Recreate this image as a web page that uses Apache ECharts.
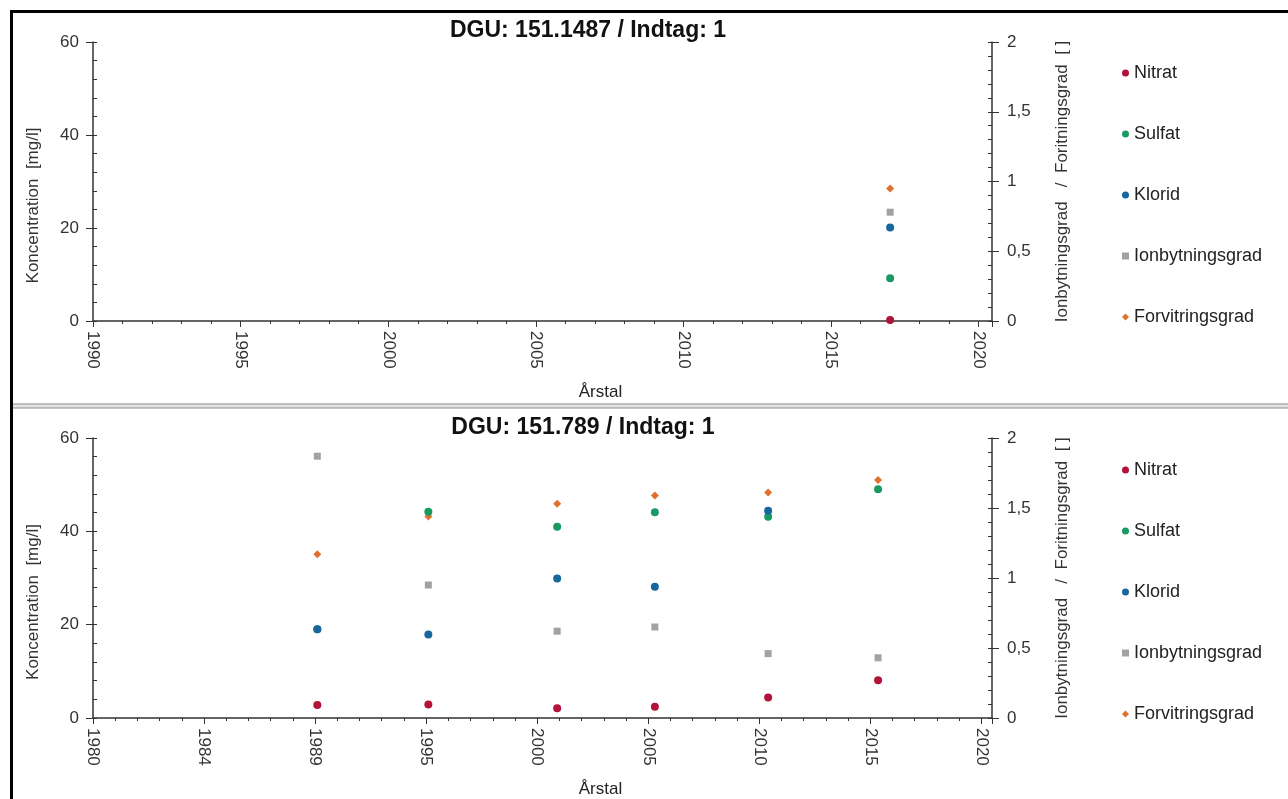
<!DOCTYPE html>
<html>
<head>
<meta charset="utf-8">
<title>DGU 151.1487 / 151.789</title>
<script src="https://cdn.jsdelivr.net/npm/echarts@6/dist/echarts.min.js"></script>
<style>
  html, body { margin: 0; padding: 0; background: #fff; }
  #chart { width: 1288px; height: 799px; }
</style>
</head>
<body>
<div id="chart"></div>
<script>
// --- data ---
const seriesNames = ['Nitrat', 'Sulfat', 'Klorid', 'Ionbytningsgrad', 'Forvitringsgrad']

// top panel: DGU 151.1487
const topYears = [2017]
const topNitrat = [0.2]
const topSulfat = [9.2]
const topKlorid = [20.1]
const topIonbytning = [0.78]
const topForvitring = [0.95]

// bottom panel: DGU 151.789
const botYears = [1990.1, 1995.1, 2000.9, 2005.3, 2010.4, 2015.35]
const botNitrat = [2.8, 2.9, 2.1, 2.4, 4.4, 8.1]
const botSulfat = [19.0, 44.2, 41.0, 44.1, 43.1, 49.0]
const botKlorid = [19.0, 17.9, 29.9, 28.1, 44.4, null]
const botIonbytning = [1.87, 0.95, 0.62, 0.65, 0.46, 0.43]
const botForvitring = [1.17, 1.44, 1.53, 1.59, 1.61, 1.70]

// tick labels
const topXLabels = ['1990', '1995', '2000', '2005', '2010', '2015', '2020']
const botXLabels = ['1980', '1984', '1989', '1995', '2000', '2005', '2010', '2015', '2020']

const colors = ['#b3123a', '#1a9a63', '#17679c', '#a2a2a2', '#e0702e']
const symbols = ['circle', 'circle', 'circle', 'rect', 'diamond']
const axisColor = '#333'
const font = 'Arial, "Liberation Sans", sans-serif'

const chartDom = document.getElementById('chart')
const myChart = echarts.init(chartDom)

function pair(xs, ys) {
  return xs.map((x, i) => [x, ys[i]])
}

function xAxes(min, max, labels, labelMin) {
  return [
    {
      type: 'value', min: min, max: max, interval: 5,
      position: 'bottom',
      name: 'Årstal', nameLocation: 'middle', nameGap: 63,
      nameTextStyle: { fontFamily: font, fontSize: 17, color: '#222', padding: [0, 0, 0, 116] },
      axisLine: { show: true, onZero: false, lineStyle: { color: axisColor, width: 1.5 } },
      axisTick: { show: true, length: 6, lineStyle: { color: axisColor } },
      splitLine: { show: false },
      axisLabel: {
        rotate: -90, margin: 10, fontFamily: font, fontSize: 17, color: '#333',
        formatter: v => {
          const k = (v - labelMin) / 5
          return Number.isInteger(k) && labels[k] ? labels[k] : ''
        }
      }
    },
    {
      // yearly minor ticks
      type: 'value', min: min, max: max, interval: 1,
      position: 'bottom',
      axisLine: { show: false },
      axisTick: { show: true, length: 3, lineStyle: { color: axisColor } },
      axisLabel: { show: false },
      splitLine: { show: false }
    }
  ]
}

function yAxes(gridIndex) {
  return [
    {
      type: 'value', gridIndex: gridIndex, position: 'left', min: 0, max: 60, interval: 20,
      name: 'Koncentration  [mg/l]', nameLocation: 'middle', nameGap: 51, nameRotate: 90,
      nameTextStyle: { fontFamily: font, fontSize: 17, color: '#333', padding: [0, 48, 0, 0] },
      axisLine: { show: true, lineStyle: { color: axisColor, width: 1.5 } },
      axisTick: { show: true, length: 7, lineStyle: { color: axisColor } },
      axisLabel: { margin: 14, fontFamily: font, fontSize: 17, color: '#333' },
      splitLine: { show: false }
    },
    {
      type: 'value', gridIndex: gridIndex, position: 'right', min: 0, max: 2, interval: 0.5,
      name: 'Ionbytningsgrad   /  Foritningsgrad  [ ]', nameLocation: 'middle', nameGap: 62, nameRotate: 90,
      nameTextStyle: { fontFamily: font, fontSize: 17, color: '#333' },
      axisLine: { show: true, lineStyle: { color: axisColor, width: 1.5 } },
      axisTick: { show: true, length: 7, lineStyle: { color: axisColor } },
      axisLabel: {
        margin: 15, fontFamily: font, fontSize: 17, color: '#333',
        formatter: v => String(v).replace('.', ',')
      },
      splitLine: { show: false }
    },
    {
      // minor ticks, left
      type: 'value', gridIndex: gridIndex, position: 'left', min: 0, max: 60, interval: 4,
      axisLine: { show: false },
      axisTick: { show: true, inside: true, length: 4, lineStyle: { color: axisColor } },
      axisLabel: { show: false },
      splitLine: { show: false }
    },
    {
      // minor ticks, right
      type: 'value', gridIndex: gridIndex, position: 'right', min: 0, max: 2, interval: 0.1,
      axisLine: { show: false },
      axisTick: { show: true, inside: true, length: 4, lineStyle: { color: axisColor } },
      axisLabel: { show: false },
      splitLine: { show: false }
    }
  ]
}

function panelSeries(xIdx, yBase, years, vals) {
  return vals.map((v, i) => ({
    name: seriesNames[i],
    type: 'scatter',
    xAxisIndex: xIdx,
    yAxisIndex: yBase + (i < 3 ? 0 : 1),
    symbol: symbols[i],
    symbolSize: i === 3 ? 7 : 8,
    itemStyle: { color: colors[i], opacity: 1 },
    z: i === 4 ? 1 : 2,
    data: pair(years, v)
  }))
}

function legend(top) {
  return {
    orient: 'vertical', left: 1117, top: top,
    itemGap: 43, itemWidth: 7, itemHeight: 7,
    icon: 'circle',
    textStyle: { fontFamily: font, fontSize: 18, lineHeight: 18, color: '#222' },
    data: seriesNames.map((n, i) => ({ name: n, icon: symbols[i] }))
  }
}

const topX = xAxes(1990, 2020.45, topXLabels, 1990).map(a => ({ ...a, gridIndex: 0 }))
const botX = xAxes(1980, 2020.48, botXLabels, 1980).map(a => ({ ...a, gridIndex: 1 }))

const option = {
  backgroundColor: '#fff',
  animation: false,
  color: colors,
  title: [
    { text: 'DGU: 151.1487 / Indtag: 1', left: 583, top: 14, textAlign: 'center',
      textStyle: { fontFamily: font, fontSize: 23, fontWeight: 'bold', color: '#111' } },
    { text: 'DGU: 151.789 / Indtag: 1', left: 578, top: 411, textAlign: 'center',
      textStyle: { fontFamily: font, fontSize: 23, fontWeight: 'bold', color: '#111' } }
  ],
  legend: [legend(59), legend(456)],
  grid: [
    { left: 93, right: 296, top: 42, bottom: 478 },
    { left: 93, right: 296, top: 438, bottom: 81 }
  ],
  xAxis: topX.concat(botX),
  yAxis: yAxes(0).concat(yAxes(1)),
  series: panelSeries(0, 0, topYears, [topNitrat, topSulfat, topKlorid, topIonbytning, topForvitring])
    .concat(panelSeries(2, 4, botYears, [botNitrat, botSulfat, botKlorid, botIonbytning, botForvitring])),
  graphic: [
    { type: 'rect', shape: { x: 10, y: 10, width: 1278, height: 3 }, style: { fill: '#000' } },
    { type: 'rect', shape: { x: 10, y: 10, width: 3, height: 789 }, style: { fill: '#000' } },
    { type: 'rect', shape: { x: 13, y: 404, width: 1275, height: 4 }, style: { fill: '#e4e4e4' } },
    { type: 'line', shape: { x1: 13, y1: 404, x2: 1288, y2: 404 }, style: { stroke: '#8c8c8c', lineWidth: 1.2 } },
    { type: 'line', shape: { x1: 13, y1: 408, x2: 1288, y2: 408 }, style: { stroke: '#8c8c8c', lineWidth: 1.2 } }
  ]
}

myChart.setOption(option)
</script>
</body>
</html>
